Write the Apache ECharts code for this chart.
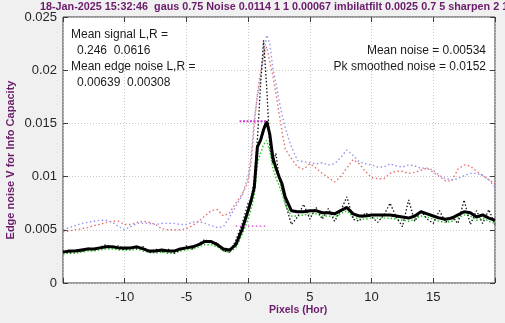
<!DOCTYPE html>
<html>
<head>
<meta charset="utf-8">
<script src="https://cdn.jsdelivr.net/npm/echarts@6/dist/echarts.min.js"></script>
<style>
  html, body { margin: 0; padding: 0; background: #f0f0f0; }
  #chart { width: 505px; height: 323px; }
</style>
</head>
<body>
<div id="chart"></div>
<script>
// Pixel positions (finer sampling across the edge)
const pix = [
  -15, -14.5, -14, -13.5, -13, -12.5, -12, -11.5, -11, -10.5,
  -10, -9.5, -9, -8.5, -8, -7.5, -7, -6.5, -6, -5.5,
  -5, -4.5, -4, -3.5, -3, -2.5, -2, -1.5, -1, -0.5, 0,
  0.25, 0.5, 0.75, 1, 1.25, 1.5, 1.75, 2, 2.25, 2.5, 2.75, 3,
  3.5, 4, 4.5, 5, 5.5, 6, 6.5, 7, 7.5, 8, 8.5, 9, 9.5,
  10, 10.5, 11, 11.5, 12, 12.5, 13, 13.5, 14, 14.5, 15, 15.5,
  16, 16.5, 17, 17.5, 18, 18.5, 19, 19.5, 20
];

// Edge noise, left half (red dotted)
const noiseL = [
  0.0048, 0.0049, 0.0050, 0.0051, 0.0052, 0.0054, 0.0055, 0.0057, 0.0058, 0.0058,
  0.0055, 0.0055, 0.0057, 0.0058, 0.0057, 0.0055, 0.0051, 0.0050, 0.0050, 0.0050,
  0.0051, 0.0054, 0.0058, 0.0063, 0.0068, 0.0069, 0.0063, 0.0066, 0.0075, 0.0083, 0.0095,
  0.0115, 0.0148, 0.0178, 0.0198, 0.0214, 0.0222, 0.0208, 0.0195, 0.0178, 0.0160, 0.0142, 0.0126,
  0.0117, 0.0109, 0.0107, 0.0112, 0.0108, 0.0103, 0.0099, 0.0095, 0.0100, 0.0108, 0.0116, 0.0112, 0.0105,
  0.0099, 0.0098, 0.0098, 0.0103, 0.0105, 0.0105, 0.0103, 0.0104, 0.0106, 0.0108, 0.0104, 0.0100,
  0.0096, 0.0096, 0.0107, 0.0111, 0.0110, 0.0105, 0.0101, 0.0097, 0.0093
];

// Edge noise, right half (blue dotted)
const noiseR = [
  0.0050, 0.0052, 0.0054, 0.0056, 0.0057, 0.0058, 0.0059, 0.0059, 0.0057, 0.0053,
  0.0050, 0.0053, 0.0056, 0.0056, 0.0056, 0.0055, 0.0056, 0.0056, 0.0056, 0.0055,
  0.0055, 0.0057, 0.0058, 0.0056, 0.0054, 0.0052, 0.0053, 0.0062, 0.0072, 0.0082, 0.0100,
  0.0120, 0.0155, 0.0175, 0.0192, 0.0212, 0.0233, 0.0225, 0.0202, 0.0188, 0.0172, 0.0158, 0.0146,
  0.0128, 0.0115, 0.0114, 0.0113, 0.0112, 0.0113, 0.0111, 0.0112, 0.0118, 0.0125, 0.0120, 0.0114, 0.0112,
  0.0111, 0.0109, 0.0109, 0.0112, 0.0110, 0.0109, 0.0111, 0.0110, 0.0108, 0.0108, 0.0106, 0.0101,
  0.0098, 0.0097, 0.0098, 0.0101, 0.0103, 0.0103, 0.0101, 0.0097, 0.0090
];

// Lower smoothed estimate (green dotted)
const noiseLow = [
  0.0027, 0.0028, 0.0028, 0.0029, 0.0030, 0.0030, 0.0031, 0.0032, 0.0032, 0.0031,
  0.0031, 0.0031, 0.0032, 0.0030, 0.0029, 0.0028, 0.0029, 0.0028, 0.0028, 0.0030,
  0.0031, 0.0032, 0.0034, 0.0036, 0.0036, 0.0034, 0.0030, 0.0029, 0.0033, 0.0045, 0.0060,
  0.0070, 0.0082, 0.0112, 0.0122, 0.0130, 0.0134, 0.0124, 0.0108, 0.0099, 0.0092, 0.0084, 0.0074,
  0.0063, 0.0063, 0.0064, 0.0065, 0.0065, 0.0063, 0.0063, 0.0062, 0.0065, 0.0068, 0.0062, 0.0060, 0.0060,
  0.0061, 0.0061, 0.0061, 0.0061, 0.0060, 0.0059, 0.0058, 0.0060, 0.0063, 0.0062, 0.0060, 0.0058,
  0.0057, 0.0058, 0.0061, 0.0064, 0.0063, 0.0059, 0.0061, 0.0058, 0.0056
];

// Unsmoothed noise (black dotted)
const noiseRaw = [
  0.0030, 0.0028, 0.0031, 0.0029, 0.0033, 0.0031, 0.0034, 0.0036, 0.0033, 0.0035,
  0.0031, 0.0034, 0.0032, 0.0034, 0.0028, 0.0032, 0.0029, 0.0032, 0.0028, 0.0031,
  0.0035, 0.0032, 0.0037, 0.0041, 0.0037, 0.0038, 0.0030, 0.0029, 0.0040, 0.0055, 0.0075,
  0.0078, 0.0098, 0.0135, 0.0185, 0.0228, 0.0185, 0.0128, 0.0112, 0.0122, 0.0100, 0.0088, 0.0076,
  0.0055, 0.0062, 0.0074, 0.0060, 0.0071, 0.0060, 0.0070, 0.0058, 0.0068, 0.0081, 0.0060, 0.0058, 0.0066,
  0.0062, 0.0057, 0.0064, 0.0075, 0.0062, 0.0053, 0.0078, 0.0058, 0.0068, 0.0060, 0.0056, 0.0068,
  0.0057, 0.0062, 0.0056, 0.0078, 0.0055, 0.0068, 0.0056, 0.0069, 0.0055
];

// Smoothed noise (thick black)
const noiseSmooth = [
  0.0029, 0.0030, 0.0030, 0.0031, 0.0032, 0.0032, 0.0033, 0.0034, 0.0034, 0.0033,
  0.0033, 0.0033, 0.0034, 0.0032, 0.0030, 0.0030, 0.0031, 0.0030, 0.0030, 0.0032,
  0.0033, 0.0034, 0.0036, 0.0039, 0.0039, 0.0036, 0.0032, 0.0031, 0.0036, 0.0050, 0.0068,
  0.0078, 0.0090, 0.0128, 0.0134, 0.0144, 0.0152, 0.0140, 0.0118, 0.0108, 0.0100, 0.0093, 0.0081,
  0.0068, 0.0067, 0.0067, 0.0068, 0.0068, 0.0066, 0.0066, 0.0065, 0.0068, 0.0071, 0.0065, 0.0063, 0.0063,
  0.0064, 0.0064, 0.0064, 0.0064, 0.0063, 0.0062, 0.0061, 0.0063, 0.0067, 0.0065, 0.0063, 0.0061,
  0.0060, 0.0061, 0.0064, 0.0067, 0.0066, 0.0062, 0.0064, 0.0061, 0.0059
];

// Reference levels (magenta dotted)
const pkSmoothed = 0.0152;
const meanNoise = 0.00534;
const pkLineX = [-0.7, 1.6];
const meanLineX = [-1.0, 1.6];

// Axis ticks
const xTicks = [-10, -5, 0, 5, 10, 15];
const yTicks = [0, 0.005, 0.01, 0.015, 0.02, 0.025];

const titleText = '18-Jan-2025 15:32:46  gaus 0.75 Noise 0.0114 1 1 0.00067 imbilatfilt 0.0025 0.7 5 sharpen 2 1.4';
const leftNotes = [
  { text: 'Mean signal L,R =', dx: 0 },
  { text: '0.246  0.0616', dx: 6 },
  { text: 'Mean edge noise L,R =', dx: 0 },
  { text: '0.00639  0.00308', dx: 6 }
];
const rightNotes = ['Mean noise = 0.00534', 'Pk smoothed noise = 0.0152'];

const FONT = '"Liberation Sans", Arial, Helvetica, sans-serif';
const PURPLE = '#6a1b6a';
const pair = arr => pix.map((x, i) => [x, arr[i]]);

const chart = echarts.init(document.getElementById('chart'), null, { renderer: 'canvas' });

const gridSplit = { show: true, lineStyle: { color: '#c8c8c8', type: [1, 2], width: 1 } };
const inTick = { show: true, inside: true, length: 5, lineStyle: { color: '#3c3c3c' } };
const noLine = { show: false, onZero: false };

const option = {
  backgroundColor: '#f0f0f0',
  animation: false,
  grid: {
    left: 63, right: 10, top: 17, bottom: 40,
    show: true, backgroundColor: '#ffffff', borderColor: '#3c3c3c', borderWidth: 1
  },
  xAxis: [{
    type: 'value', min: -15, max: 20, interval: 5,
    axisLine: noLine, axisTick: inTick, splitLine: gridSplit,
    axisLabel: {
      color: '#262626', fontFamily: FONT, fontSize: 13, margin: 8,
      formatter: v => (xTicks.indexOf(v) >= 0 ? String(v) : '')
    }
  }, {
    type: 'value', position: 'top', min: -15, max: 20, interval: 5,
    axisLine: noLine, axisLabel: { show: false }, splitLine: { show: false },
    axisTick: inTick
  }],
  yAxis: [{
    type: 'value', position: 'left', min: 0, max: 0.025, interval: 0.005,
    axisLine: noLine, axisTick: inTick, splitLine: gridSplit,
    axisLabel: {
      color: '#262626', fontFamily: FONT, fontSize: 13, margin: 6,
      formatter: v => {
        const r = parseFloat(v.toFixed(4));
        return yTicks.indexOf(r) >= 0 ? String(r) : '';
      }
    }
  }, {
    type: 'value', position: 'right', min: 0, max: 0.025, interval: 0.005,
    axisLine: noLine, axisLabel: { show: false }, splitLine: { show: false },
    axisTick: inTick
  }],
  series: [
    {
      name: 'noise L', type: 'line', data: pair(noiseL), symbol: 'none', z: 2,
      lineStyle: { color: '#e8706a', width: 1.4, type: [1.5, 2.5] }
    },
    {
      name: 'noise R', type: 'line', data: pair(noiseR), symbol: 'none', z: 2,
      lineStyle: { color: '#9595ee', width: 1.4, type: [1.5, 2.5] }
    },
    {
      name: 'low', type: 'line', data: pair(noiseLow), symbol: 'none', z: 3,
      lineStyle: { color: '#22c822', width: 1.4, type: [1.5, 2] }
    },
    {
      name: 'raw', type: 'line', data: pair(noiseRaw), symbol: 'none', z: 4,
      lineStyle: { color: '#111111', width: 1.3, type: [1.5, 2] }
    },
    {
      name: 'smoothed', type: 'line', data: pair(noiseSmooth), symbol: 'none', z: 5,
      lineStyle: { color: '#000000', width: 3 }
    },
    {
      name: 'peak level', type: 'line', data: pkLineX.map(x => [x, pkSmoothed]), symbol: 'none', z: 6,
      lineStyle: { color: '#d23cd2', width: 1.8, type: [2, 1.5] }
    },
    {
      name: 'mean level', type: 'line', data: meanLineX.map(x => [x, meanNoise]), symbol: 'none', z: 6,
      lineStyle: { color: '#d23cd2', width: 1.2, type: [1.5, 2.5] }
    }
  ],
  graphic: [
    {
      type: 'text', left: 40, top: 2, z: 10,
      style: { text: titleText, fill: PURPLE, font: 'bold 10.8px ' + FONT }
    },
    {
      type: 'text', left: 269, top: 305, z: 10,
      style: { text: 'Pixels (Hor)', fill: PURPLE, font: 'bold 10.5px ' + FONT }
    },
    {
      type: 'text', x: 11, y: 160, rotation: Math.PI / 2, z: 10,
      style: {
        text: 'Edge noise V for Info Capacity', fill: PURPLE, font: 'bold 11px ' + FONT,
        align: 'center', verticalAlign: 'middle'
      }
    }
  ].concat(leftNotes.map((n, i) => ({
    type: 'text', x: 71 + n.dx, y: 35 + i * 16, z: 10,
    style: { text: n.text, fill: '#1a1a1a', font: '12px ' + FONT, verticalAlign: 'middle' }
  }))).concat(rightNotes.map((t, i) => ({
    type: 'text', x: 486, y: 51 + i * 16, z: 10,
    style: { text: t, fill: '#1a1a1a', font: '12px ' + FONT, align: 'right', verticalAlign: 'middle' }
  })))
};

chart.setOption(option);
</script>
</body>
</html>
